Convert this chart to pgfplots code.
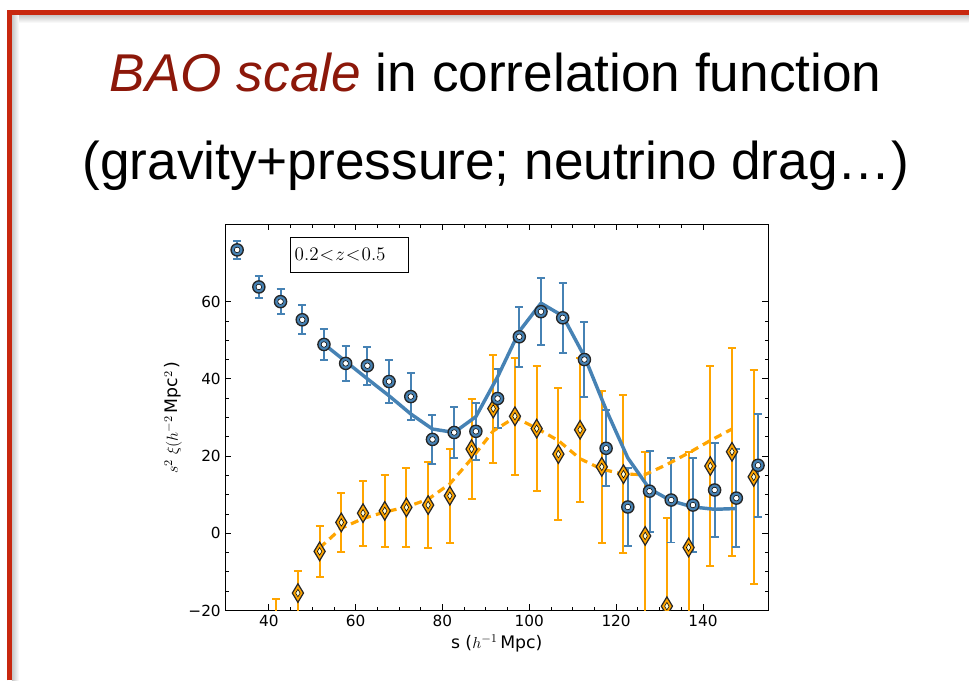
\documentclass[border=0pt]{standalone}
\usepackage{pgfplots}
\pgfplotsset{compat=1.18}
\usepackage{pgfplotstable}
\usepackage{fontspec}
\setmainfont{DejaVu Sans}
\newfontfamily\titlefont{Liberation Sans}
\definecolor{sblue}{RGB}{70,130,180}
\definecolor{sorange}{RGB}{255,165,0}
\definecolor{bred}{RGB}{140,24,10}
\definecolor{framered}{RGB}{200,40,15}

\pgfplotstableread{
x y e
32.7 73.4 2.3
37.7 63.8 2.9
42.7 60.0 3.3
47.7 55.3 3.7
52.7 48.9 4.1
57.7 44.0 4.6
62.7 43.4 4.9
67.7 39.3 5.6
72.7 35.4 6.0
77.7 24.3 6.4
82.7 26.1 6.7
87.7 26.4 7.4
92.7 34.9 7.7
97.7 50.9 7.8
102.7 57.4 8.6
107.7 55.8 9.0
112.7 45.0 9.6
117.7 22.0 9.8
122.7 6.8 10.2
127.7 10.9 10.5
132.7 8.6 11.0
137.7 7.3 12.2
142.7 11.2 12.1
147.7 9.1 12.6
152.7 17.6 13.4
}\bluedata

\pgfplotstableread{
x y e
41.7 -24.0 7.0
46.7 -15.5 5.8
51.7 -4.7 6.6
56.7 2.8 7.7
61.7 5.2 8.4
66.7 5.8 9.4
71.7 6.7 10.3
76.7 7.3 11.2
81.7 9.7 12.2
86.7 21.8 13.0
91.7 32.3 14.0
96.7 30.3 15.2
101.7 27.1 16.2
106.7 20.5 17.2
111.7 26.8 18.7
116.7 17.2 19.7
121.7 15.3 20.4
126.7 -0.7 21.7
131.7 -18.9 22.8
136.7 -3.7 24.8
141.7 17.4 25.8
146.7 21.1 27.0
151.7 14.6 27.8
}\orangedata

\pgfplotstableread{
x y
52.7 49.0
57.7 44.5
62.7 40.0
67.7 35.6
72.7 30.9
77.7 27.0
82.7 26.1
87.7 30.2
92.7 40.5
97.7 52.3
102.7 59.6
107.7 56.3
112.7 45.8
117.7 32.0
122.7 19.5
127.7 11.5
132.7 8.4
137.7 6.8
142.7 6.2
147.7 6.4
}\bluefit

\pgfplotstableread{
x y
51.7 -3.8
56.7 1.3
61.7 3.8
66.7 5.5
71.7 6.8
76.7 8.8
81.7 12.8
86.7 19.3
91.7 26.5
96.7 30.0
101.7 27.2
106.7 24.0
111.7 19.3
116.7 16.6
121.7 15.3
126.7 15.2
131.7 17.8
136.7 20.8
141.7 24.0
146.7 27.0
}\orangefit

\begin{document}
\begin{tikzpicture}
\begin{scope}[x=0.75pt,y=-0.75pt]
\fill[white] (0,0) rectangle (971,682);
\shade[top color=black!22,bottom color=white] (12,15) rectangle (971,23);
\shade[left color=black!22,right color=white] (12,15) rectangle (19,682);
\draw[framered, line width=3.75pt] (9.5,682) -- (9.5,12.5) -- (971,12.5);
\node[anchor=base, inner sep=0pt, font=\titlefont\fontsize{40}{48}\selectfont] at (497,91.7)
  {\textcolor{bred}{\itshape BAO scale} in correlation function};
\node[anchor=base, inner sep=0pt, font=\titlefont\fontsize{40}{48}\selectfont] at (497,180)
  {(gravity+pressure; neutrino drag…)};
\end{scope}
\begin{axis}[
  at={(169.5pt,-459pt)}, anchor=south west,
  scale only axis, width=408pt, height=290.25pt,
  xmin=30, xmax=155, ymin=-20, ymax=80,
  xtick={40,60,80,100,120,140},
  xticklabels={40,60,80,100,120,140},
  ytick={-20,0,20,40,60},
  yticklabels={−20,0,20,40,60},
  minor x tick num=3, minor y tick num=3,
  tick align=inside,
  major tick length=4.5pt, minor tick length=2.4pt,
  every tick/.style={black, line width=0.6pt},
  axis line style={line width=0.75pt},
  tick label style={font=\fontsize{11.5}{13}\selectfont},
  label style={font=\fontsize{13}{15}\selectfont},
  xlabel style={yshift=1pt},
  ylabel style={yshift=-2pt},
  xlabel={s ($h^{-1}\,$Mpc)},
  ylabel={$s^2\;\xi(h^{-2}\,$Mpc$^2$\,)},
  clip marker paths=true,
]
% error bars
\addplot[only marks, mark=none, forget plot,
  error bars/.cd, y dir=both, y explicit,
  error bar style={draw=sorange, line width=1.5pt},
  error mark options={rotate=90, mark size=3pt, line width=1.5pt, draw=sorange}]
  table[x=x, y=y, y error=e] {\orangedata};
\addplot[only marks, mark=none, forget plot,
  error bars/.cd, y dir=both, y explicit,
  error bar style={draw=sblue, line width=1.5pt},
  error mark options={rotate=90, mark size=3pt, line width=1.5pt, draw=sblue}]
  table[x=x, y=y, y error=e] {\bluedata};
% fits
\addplot[sorange, line width=2.4pt, dash pattern=on 6pt off 4pt, mark=none] table[x=x,y=y] {\orangefit};
\addplot[sblue, line width=2.6pt, mark=none, line join=round] table[x=x,y=y] {\bluefit};
% markers
\addplot[only marks, mark=diamond*, mark size=7pt,
  mark options={xscale=0.8, fill=sorange, draw=black!85, line width=0.9pt}]
  table[x=x, y=y] {\orangedata};
\addplot[only marks, mark=diamond*, mark size=2.8pt,
  mark options={xscale=0.8, fill=white!85!yellow, draw=none}]
  table[x=x, y=y] {\orangedata};
\addplot[only marks, mark=*, mark size=4.6pt,
  mark options={fill=sblue, draw=black!85, line width=1pt}]
  table[x=x, y=y] {\bluedata};
\addplot[only marks, mark=*, mark size=2.1pt,
  mark options={fill=white, draw=none}]
  table[x=x, y=y] {\bluedata};
\node[draw=black, line width=0.6pt, fill=white, anchor=north west, minimum width=88.7pt,
  minimum height=26.25pt, inner sep=0pt] at (axis cs:44.9,76.8) {};
\node[anchor=west, inner sep=0pt, font=\fontsize{15.5}{18}\selectfont]
  at (axis cs:45.9,72.3) {$0.2\mkern1mu{<}\mkern1mu z\mkern1mu{<}\mkern1mu 0.5$};
\end{axis}
\end{tikzpicture}
\end{document}
